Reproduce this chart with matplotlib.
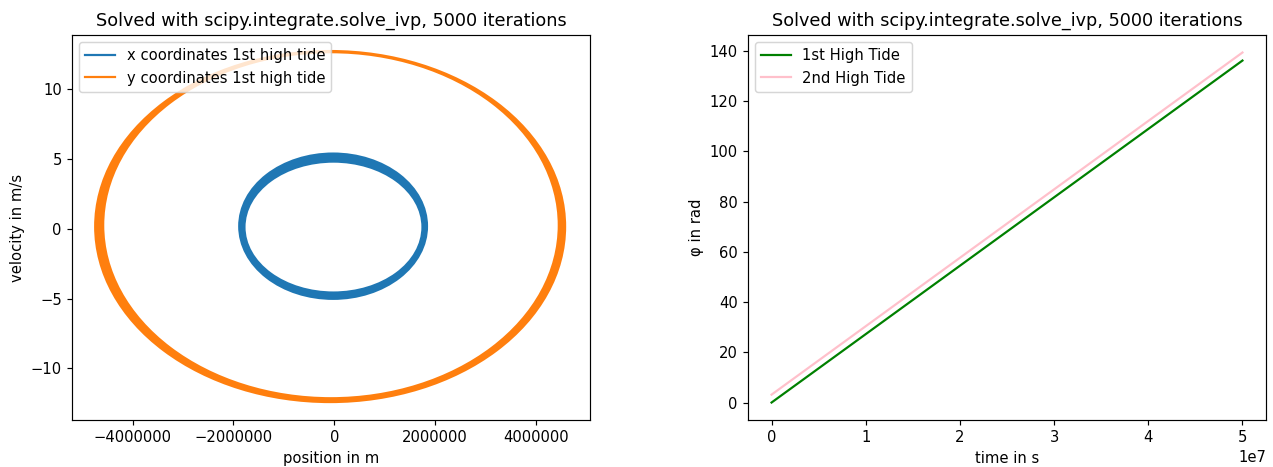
import numpy as np
import matplotlib as mpl
mpl.use('Agg')
import matplotlib.pyplot as plt
from matplotlib.patches import Ellipse
from matplotlib.lines import Line2D

# phase space bands: (centre x, centre v, width, height)
x_ring_outer = (-0.024e6, 0.195, 3.766e6, 10.57)
x_ring_inner = (-0.017e6, 0.133, 3.486e6, 9.23)
y_ring_outer = (-0.083e6, 0.17, 9.36e6, 25.32)
y_ring_inner = (-0.066e6, 0.265, 8.99e6, 24.65)

# phase angle of the tides
time = [0.0, 5.0e7]
phi_first = [0.0, 136.2]
phi_second = [3.14, 139.4]

dpi = 106
fig, (ax1, ax2) = plt.subplots(1, 2, figsize=(1273 / dpi, 467 / dpi), dpi=dpi)
fig.subplots_adjust(left=0.0566, right=0.9945, top=0.925, bottom=0.1006, wspace=0.305)

# left: orbit in phase space, drawn as filled rings
for outer, inner, col in [(y_ring_outer, y_ring_inner, 'C1'),
                          (x_ring_outer, x_ring_inner, 'C0')]:
	ax1.add_patch(Ellipse(outer[:2], outer[2], outer[3], facecolor=col,
	                      edgecolor='none', zorder=2))
	ax1.add_patch(Ellipse(inner[:2], inner[2], inner[3], facecolor='white',
	                      edgecolor='none', zorder=2))
ax1.set_xlim(-5.2e6, 5.07e6)
ax1.set_ylim(-13.7, 13.9)
ax1.ticklabel_format(axis='x', style='plain')
handles = [Line2D([], [], color='C0'), Line2D([], [], color='C1')]
ax1.legend(handles, ["x coordinates 1st high tide", "y coordinates 1st high tide"],
           loc='upper left')
ax1.set_xlabel("position in m")
ax1.set_ylabel("velocity in m/s")
ax1.set_title("Solved with scipy.integrate.solve_ivp, 5000 iterations")

# right: phase over time
ax2.plot(time, phi_first, color='green', label="1st High Tide")
ax2.plot(time, phi_second, color='pink', label="2nd High Tide")
ax2.legend(loc='upper left')
ax2.set_xlabel("time in s")
ax2.set_ylabel("φ in rad")
ax2.set_title("Solved with scipy.integrate.solve_ivp, 5000 iterations")

plt.savefig("out.png", dpi=dpi)
